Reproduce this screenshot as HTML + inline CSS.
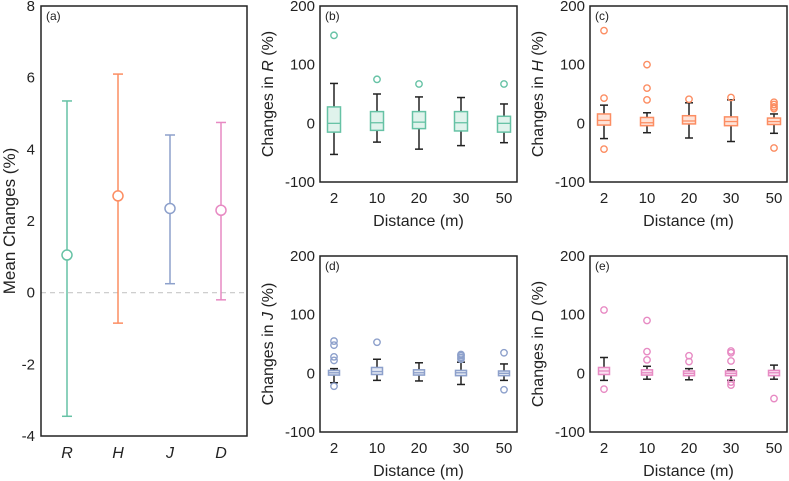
<!DOCTYPE html>
<html><head><meta charset="utf-8"><style>
html,body{margin:0;padding:0;background:#fff;}
svg{display:block;font-family:"Liberation Sans",Arial,sans-serif;}
</style></head><body>
<svg id="fig" width="789" height="481" viewBox="0 0 789 481"></svg>
<script>
// Panel (a) data
const aCats = ['R','H','J','D'];
const aMeans = [1.05, 2.7, 2.35, 2.3];
const aUpper = [5.35, 6.1, 4.4, 4.75];
const aLower = [-3.45, -0.85, 0.25, -0.2];
const aTicks = [-4,-2,0,2,4,6,8];
const colors = ['#66c2a5','#fc8d62','#8da0cb','#e78ac3'];
const fills = ['#e0f3ec','#fee3d8','#e3e8f2','#fae2f1'];

// Box panel data
const distances = ['2','10','20','30','50'];
const boxTicks = [-100,0,100,200];
// [lowWhisker, q1, median, q3, highWhisker]
const boxR = [[-53,-15,0,28,68],[-32,-12,1,20,50],[-44,-9,2,20,45],[-38,-13,1,20,44],[-33,-15,0,12,33]];
const outR = [[150],[75],[67],[],[67]];
const boxH = [[-26,-3,5,16,31],[-16,-4,1,10,18],[-25,-1,4,13,35],[-31,-4,3,11,40],[-17,-2,3,9,16]];
const outH = [[158,43,-44],[100,60,40],[41],[44],[36,32,28,25,-42]];
const boxJ = [[-16,-3,1,5,8],[-12,-2,3,10,24],[-13,-3,1,6,18],[-19,-4,1,5,19],[-12,-4,0,4,16]];
const outJ = [[55,48,28,22,-22],[53],[],[32,30,27,24],[35,-28]];
const boxD = [[-12,-2,4,10,27],[-10,-3,1,6,12],[-11,-4,0,4,8],[-12,-4,0,4,6],[-10,-4,1,5,14]];
const outD = [[108,-27],[90,37,23],[30,20],[38,35,21,-15,-20],[-43]];

const NS='http://www.w3.org/2000/svg';
const svg=document.getElementById('fig');
function mk(tag,attrs,parent){const e=document.createElementNS(NS,tag);for(const k in attrs)e.setAttribute(k,attrs[k]);(parent||svg).appendChild(e);return e;}
function txt(s,attrs,parent){const e=mk('text',attrs,parent);e.textContent=s;return e;}

// ---- Panel (a)
(function(){
  const L=41,R=247,T=6,B=436,ymin=-4,ymax=8;
  const y=v=>B-(v-ymin)/(ymax-ymin)*(B-T);
  const xs=[67,118,170,221];
  const x=i=>xs[i];
  const g=mk('g',{});
  
  
  const zl=mk('line',{x1:L,x2:R,y1:y(0),y2:y(0),stroke:'#c8c8c8','stroke-width':1.2,'stroke-dasharray':'5,4'},g);
  
  
  aCats.forEach((c,i)=>{
    const eb=mk('g',{},g);
    
    
    const col=colors[i];
    mk('line',{x1:x(i),x2:x(i),y1:y(aUpper[i]),y2:y(aLower[i]),stroke:col,'stroke-width':1.5},eb);
    mk('line',{x1:x(i)-5,x2:x(i)+5,y1:y(aUpper[i]),y2:y(aUpper[i]),stroke:col,'stroke-width':1.5},eb);
    mk('line',{x1:x(i)-5,x2:x(i)+5,y1:y(aLower[i]),y2:y(aLower[i]),stroke:col,'stroke-width':1.5},eb);
    mk('circle',{cx:x(i),cy:y(aMeans[i]),r:5,fill:'#fff',stroke:col,'stroke-width':1.5},eb);
    const t=txt(c,{x:x(i),y:458,'font-size':16,'font-style':'italic','text-anchor':'middle',fill:'#222'},g);
    
    
  });
  aTicks.forEach(v=>{
    const t=txt(String(v),{x:35,y:y(v)+5,'font-size':15,'text-anchor':'end',fill:'#222'},g);
    
    
  });
  const fr=mk('rect',{x:L,y:T,width:R-L,height:B-T,fill:'none',stroke:'#222','stroke-width':1.5},g);
  
  
  const lb=txt('(a)',{x:L+5,y:T+14,'font-size':12,fill:'#222'},g);
  
  
  const yt=txt('Mean Changes (%)',{x:0,y:0,'font-size':17,'text-anchor':'middle',fill:'#222',transform:'translate(15,'+((T+B)/2)+') rotate(-90)'},g);
  
  
})();

// ---- Box panels
function boxPanel(id,L,T,boxes,outs,col,fill,varName,bw){
  const W=197,H=176,R=L+W,B=T+H,ymin=-100,ymax=200;
  const y=v=>B-(v-ymin)/(ymax-ymin)*H;
  const xs=[14,57,99,141,184];
  const x=i=>L+xs[i];
  const g=mk('g',{});
  
  
  boxes.forEach((b,i)=>{
    const bg=mk('g',{},g);
    
    
    const cx=x(i);
    mk('line',{x1:cx,x2:cx,y1:y(b[4]),y2:y(b[3]),stroke:'#222','stroke-width':1.5},bg);
    mk('line',{x1:cx,x2:cx,y1:y(b[1]),y2:y(b[0]),stroke:'#222','stroke-width':1.5},bg);
    mk('line',{x1:cx-4,x2:cx+4,y1:y(b[4]),y2:y(b[4]),stroke:'#222','stroke-width':1.5},bg);
    mk('line',{x1:cx-4,x2:cx+4,y1:y(b[0]),y2:y(b[0]),stroke:'#222','stroke-width':1.5},bg);
    mk('rect',{x:cx-bw/2,y:y(b[3]),width:bw,height:y(b[1])-y(b[3]),fill:fill,stroke:col,'stroke-width':1.5},bg);
    mk('line',{x1:cx-bw/2,x2:cx+bw/2,y1:y(b[2]),y2:y(b[2]),stroke:col,'stroke-width':1.3},bg);
    outs[i].forEach(v=>{
      const o=mk('circle',{cx:cx,cy:y(v),r:3.2,fill:'none',stroke:col,'stroke-width':1.4},bg);
      
      
    });
    const t=txt(distances[i],{x:cx,y:B+21,'font-size':15,'text-anchor':'middle',fill:'#222'},g);
    
    
  });
  boxTicks.forEach(v=>{
    const t=txt(String(v),{x:L-5,y:y(v)+5,'font-size':15,'text-anchor':'end',fill:'#222'},g);
    
    
  });
  const fr=mk('rect',{x:L,y:T,width:W,height:H,fill:'none',stroke:'#222','stroke-width':1.5},g);
  
  
  const lb=txt('('+id+')',{x:L+5,y:T+14,'font-size':12,fill:'#222'},g);
  
  
  const xt=txt('Distance (m)',{x:L+W/2,y:B+44,'font-size':16,'text-anchor':'middle',fill:'#222'},g);
  
  
  const yt=mk('text',{x:0,y:0,'font-size':16,'text-anchor':'middle',fill:'#222',transform:'translate('+(L-47)+','+(T+H/2)+') rotate(-90)'},g);
  
  
  yt.appendChild(document.createTextNode('Changes in '));
  const it=document.createElementNS(NS,'tspan');it.setAttribute('font-style','italic');it.textContent=varName;yt.appendChild(it);
  yt.appendChild(document.createTextNode(' (%)'));
}
boxPanel('b',320,6,boxR,outR,colors[0],fills[0],'R',13);
boxPanel('c',590,6,boxH,outH,colors[1],fills[1],'H',13);
boxPanel('d',320,256,boxJ,outJ,colors[2],fills[2],'J',11);
boxPanel('e',590,256,boxD,outD,colors[3],fills[3],'D',11);
</script>
</body></html>
